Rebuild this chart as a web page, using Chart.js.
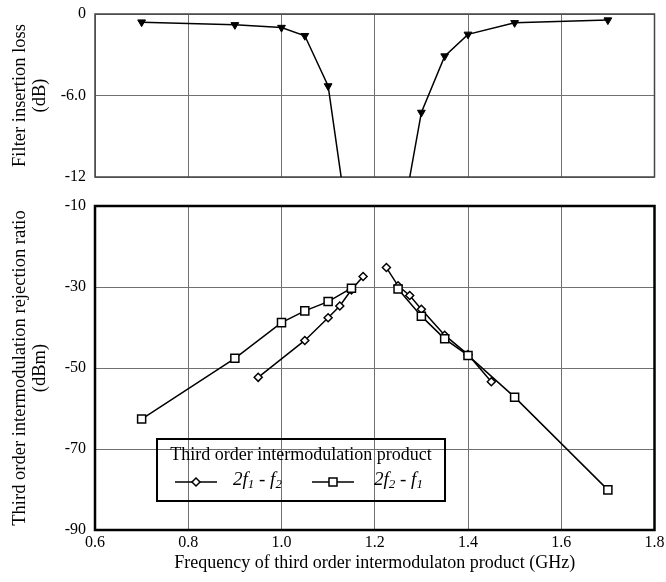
<!DOCTYPE html>
<html>
<head>
<meta charset="utf-8">
<script src="https://cdn.jsdelivr.net/npm/chart.js"></script>
<style>
  html, body { margin: 0; padding: 0; background: #fff; }
  #wrap { position: relative; width: 666px; height: 582px; }
  #top { position: absolute; left: 0; top: 0; width: 666px; height: 187px; }
  #bottom { position: absolute; left: 0; top: 190px; width: 666px; height: 392px; }
</style>
</head>
<body>
<div id="wrap">
  <div id="top"><canvas id="lossChart"></canvas></div>
  <div id="bottom"><canvas id="imdChart"></canvas></div>
</div>
<script>
// filter insertion loss (dB), lower and upper skirts
const lossFreqLow = [0.7, 0.9, 1.0, 1.05, 1.1, 1.15];
const lossLow = [-0.6, -0.8, -1.0, -1.6, -5.3, -17.3];
const lossFreqHigh = [1.25, 1.3, 1.35, 1.4, 1.5, 1.7];
const lossHigh = [-16.8, -7.25, -3.1, -1.5, -0.65, -0.45];

// 2f1 - f2 rejection ratio (dBm)
const imd1FreqLow = [0.95, 1.05, 1.1, 1.125, 1.15, 1.175];
const imd1Low = [-52.3, -43.2, -37.6, -34.7, -30.7, -27.4];
const imd1FreqHigh = [1.225, 1.25, 1.275, 1.3, 1.35, 1.4, 1.45];
const imd1High = [-25.2, -29.7, -32.1, -35.5, -41.9, -46.7, -53.4];

// 2f2 - f1 rejection ratio (dBm)
const imd2FreqLow = [0.7, 0.9, 1.0, 1.05, 1.1, 1.15];
const imd2Low = [-62.6, -47.6, -38.8, -35.9, -33.6, -30.3];
const imd2FreqHigh = [1.25, 1.3, 1.35, 1.4, 1.5, 1.7];
const imd2High = [-30.5, -37.2, -42.8, -46.9, -57.2, -80.1];

const lossTickValues = [0, -6, -12];
const lossTickLabels = ['0', '-6.0', '-12'];

const legendTitle = 'Third order intermodulation product';
// label pieces: [text, isSubscript]
const imd1Label = [['2f', 0], ['1', 1], [' - f', 0], ['2', 1]];
const imd2Label = [['2f', 0], ['2', 1], [' - f', 0], ['1', 1]];

const SERIF = '"Liberation Serif", "Times New Roman", serif';
const pts = (xs, ys) => xs.map((x, i) => ({ x: x, y: ys[i] }));

const framePlugin = {
  id: 'frame',
  beforeDatasetsDraw(chart, args, opts) {
    const { ctx, chartArea: a } = chart;
    ctx.save();
    ctx.strokeStyle = opts.color;
    ctx.lineWidth = opts.width;
    ctx.strokeRect(a.left, a.top, a.right - a.left, a.bottom - a.top);
    ctx.restore();
  }
};

function drawMarker(ctx, style, x, y) {
  ctx.save();
  ctx.fillStyle = '#fff';
  ctx.strokeStyle = '#000';
  ctx.lineWidth = 1.5;
  ctx.beginPath();
  if (style === 'rectRot') {
    const r = 4;
    ctx.moveTo(x, y - r); ctx.lineTo(x + r, y); ctx.lineTo(x, y + r); ctx.lineTo(x - r, y);
    ctx.closePath();
  } else {
    const h = 4;
    ctx.rect(x - h, y - h, 2 * h, 2 * h);
  }
  ctx.fill();
  ctx.stroke();
  ctx.restore();
}

function drawPieces(ctx, pieces, x, y) {
  pieces.forEach(([t, sub]) => {
    ctx.font = sub ? 'italic 13px ' + SERIF : 'italic 19px ' + SERIF;
    ctx.fillText(t, x, sub ? y + 5 : y);
    x += ctx.measureText(t).width;
  });
}

const legendPlugin = {
  id: 'imdLegend',
  afterDraw(chart) {
    const { ctx, chartArea: a } = chart;
    const x = a.left + 62, y = a.top + 233, w = 288, h = 62;
    ctx.save();
    ctx.strokeStyle = '#000';
    ctx.lineWidth = 2;
    ctx.strokeRect(x, y, w, h);
    ctx.fillStyle = '#000';
    ctx.textBaseline = 'middle';
    ctx.textAlign = 'center';
    ctx.font = '18px ' + SERIF;
    ctx.fillText(legendTitle, x + w / 2, y + 16);
    const rowY = y + 43;
    const entries = [
      { start: 18, text: 76, style: 'rectRot', label: imd1Label },
      { start: 155, text: 217, style: 'rect', label: imd2Label }
    ];
    ctx.textAlign = 'left';
    entries.forEach(e => {
      ctx.strokeStyle = '#000';
      ctx.lineWidth = 1.5;
      ctx.beginPath();
      ctx.moveTo(x + e.start, rowY);
      ctx.lineTo(x + e.start + 42, rowY);
      ctx.stroke();
      drawMarker(ctx, e.style, x + e.start + 21, rowY);
      ctx.fillStyle = '#000';
      drawPieces(ctx, e.label, x + e.text, rowY - 2);
    });
    ctx.restore();
  }
};

const gridColor = '#707070';
const tickFont = { family: SERIF, size: 16 };
const yTitleFont = { family: SERIF, size: 18.5, lineHeight: 1.08 };

// keep tick labels from pushing the plot area around
const noLabelPadding = axis => {
  axis.paddingTop = 0; axis.paddingBottom = 0;
  axis.paddingLeft = 0; axis.paddingRight = 0;
};

const freqAxis = (showTicks) => ({
  type: 'linear',
  min: 0.6,
  max: 1.8,
  grid: { color: gridColor, lineWidth: 1, drawTicks: false },
  border: { display: false },
  ticks: {
    display: showTicks,
    stepSize: 0.2,
    padding: 3,
    color: '#000',
    font: tickFont,
    callback: v => v.toFixed(1)
  },
  title: {
    display: showTicks,
    text: 'Frequency of third order intermodulaton product (GHz)',
    color: '#000',
    font: { family: SERIF, size: 18, lineHeight: 1.2 },
    padding: { top: 4, bottom: 8 }
  },
  afterFit: axis => {
    axis.height = showTicks ? 52 : 0;
    noLabelPadding(axis);
  }
});

const yAxis = (extra) => Object.assign({
  grid: { color: gridColor, lineWidth: 1, drawTicks: false },
  border: { display: false },
  afterFit: axis => { axis.width = 95; noLabelPadding(axis); }
}, extra);

new Chart(document.getElementById('lossChart'), {
  type: 'scatter',
  data: {
    datasets: [
      { label: 'Insertion loss (low side)', data: pts(lossFreqLow, lossLow) },
      { label: 'Insertion loss (high side)', data: pts(lossFreqHigh, lossHigh) }
    ].map(d => Object.assign(d, {
      showLine: true,
      borderColor: '#000',
      borderWidth: 1.5,
      backgroundColor: '#000',
      pointStyle: 'triangle',
      rotation: 180,
      pointRadius: 4.5,
      pointBorderWidth: 1
    }))
  },
  options: {
    responsive: true,
    maintainAspectRatio: false,
    animation: false,
    layout: { padding: { top: 14, bottom: 10, left: 0, right: 11.5 } },
    plugins: {
      legend: { display: false },
      tooltip: { enabled: false },
      frame: { color: '#444', width: 1.5 }
    },
    scales: {
      x: freqAxis(false),
      y: yAxis({
        min: -12,
        max: 0,
        afterBuildTicks: axis => { axis.ticks = lossTickValues.map(v => ({ value: v })); },
        ticks: {
          padding: 9,
          color: '#000',
          font: tickFont,
          callback: v => lossTickLabels[lossTickValues.indexOf(v)]
        },
        title: {
          display: true,
          text: ['Filter insertion loss', '(dB)'],
          color: '#000',
          font: yTitleFont,
          padding: { top: 10, bottom: 0 }
        }
      })
    }
  },
  plugins: [framePlugin]
});

const diamondStyle = {
  pointStyle: 'rectRot', pointRadius: 4, pointBorderWidth: 1.5,
  backgroundColor: '#fff'
};
const squareStyle = {
  pointStyle: 'rect', pointRadius: 5.7, pointBorderWidth: 1.5,
  backgroundColor: '#fff'
};

new Chart(document.getElementById('imdChart'), {
  type: 'scatter',
  data: {
    datasets: [
      Object.assign({ label: '2f₂ - f₁', data: pts(imd2FreqLow, imd2Low) }, squareStyle),
      Object.assign({ label: '2f₂ - f₁', data: pts(imd2FreqHigh, imd2High) }, squareStyle),
      Object.assign({ label: '2f₁ - f₂', data: pts(imd1FreqLow, imd1Low) }, diamondStyle),
      Object.assign({ label: '2f₁ - f₂', data: pts(imd1FreqHigh, imd1High) }, diamondStyle)
    ].map(d => Object.assign(d, { showLine: true, borderColor: '#000', borderWidth: 1.5 }))
  },
  options: {
    responsive: true,
    maintainAspectRatio: false,
    animation: false,
    layout: { padding: { top: 16, bottom: 0, left: 0, right: 11.5 } },
    plugins: {
      legend: { display: false },
      tooltip: { enabled: false },
      frame: { color: '#000', width: 2.5 }
    },
    scales: {
      x: freqAxis(true),
      y: yAxis({
        min: -90,
        max: -10,
        ticks: {
          stepSize: 20,
          padding: 9,
          color: '#000',
          font: tickFont
        },
        title: {
          display: true,
          text: ['Third order intermodulation rejection ratio', '(dBm)'],
          color: '#000',
          font: yTitleFont,
          padding: { top: 10, bottom: 0 }
        }
      })
    }
  },
  plugins: [framePlugin, legendPlugin]
});
</script>
</body>
</html>
